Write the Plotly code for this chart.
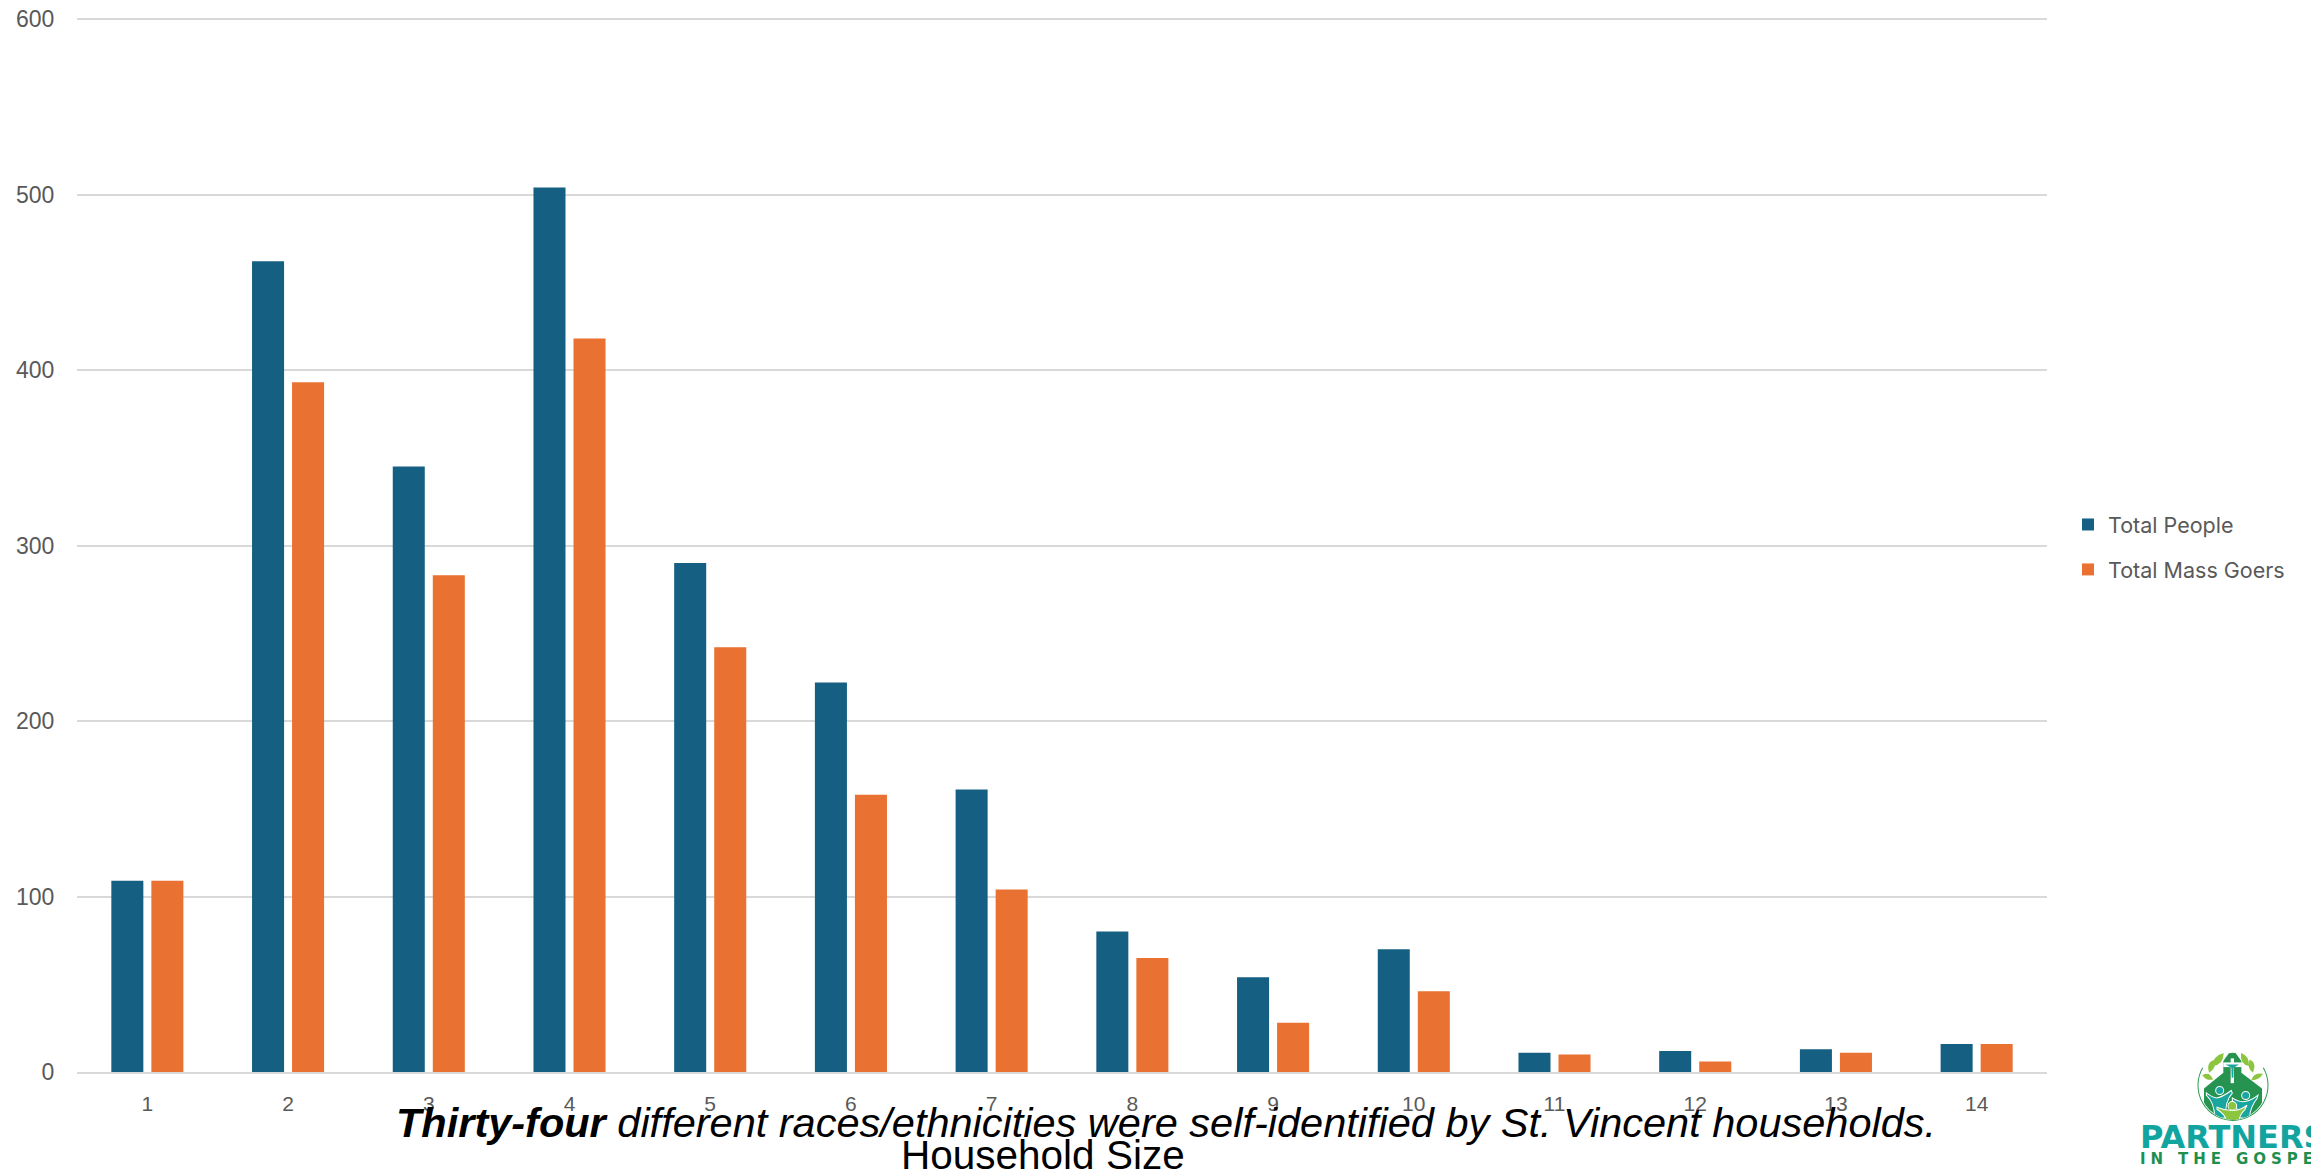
import base64
import plotly.graph_objects as go

household_size = ["1", "2", "3", "4", "5", "6", "7", "8", "9", "10", "11", "12", "13", "14"]
total_people = [109, 462, 345, 504, 290, 222, 161, 80, 54, 70, 11, 12, 13, 16]
total_mass_goers = [109, 393, 283, 418, 242, 158, 104, 65, 28, 46, 10, 6, 11, 16]
y_ticks = [0, 100, 200, 300, 400, 500, 600]

W, H = 2311, 1175
L, R, T, B = 77, 2047, 18, 1072


def px(x):
    return (x - L) / (R - L)


def py(y):
    return (B - y) / (B - T)


logo_svg = """<svg xmlns="http://www.w3.org/2000/svg" viewBox="430 85 240 230" width="240" height="230">
<defs><clipPath id="c"><circle cx="550" cy="205" r="100"/></clipPath></defs>
<path d="M459 150 A105 105 0 1 0 641 150" fill="none" stroke="#2a9a50" stroke-width="3"/>
<g clip-path="url(#c)">
<path d="M548 92 L575 130 L575 165 L637 212 L637 320 L463 320 L463 212 L521 165 L521 130 Z" fill="#279350"/>
<path d="M470 225 Q490 240 500 240 Q515 240 545 218 L548 226 Q525 250 528 300 L495 300 Q495 255 470 232 Z" fill="#19a5a0" stroke="#fff" stroke-width="3"/>
<circle cx="510" cy="218" r="12" fill="#19a5a0" stroke="#fff" stroke-width="3"/>
<path d="M548 240 Q570 255 590 250 Q605 248 625 232 L622 242 Q600 270 600 300 L565 300 Q565 265 548 248 Z" fill="#19a5a0" stroke="#fff" stroke-width="3"/>
<circle cx="588" cy="233" r="12" fill="#19a5a0" stroke="#fff" stroke-width="3"/>
<path d="M502 268 Q525 278 548 278 Q572 278 592 262 L585 276 Q570 290 568 310 L530 310 Q528 290 502 274 Z" fill="#8cc63f" stroke="#fff" stroke-width="3"/>
<circle cx="548" cy="264" r="13" fill="#8cc63f" stroke="#fff" stroke-width="3"/>
</g>
<rect x="543" y="122" width="10" height="74" fill="#fff"/>
<rect x="521" y="134" width="55" height="14" fill="#fff"/>
<path d="M528 140 L568 140 L552 150 L551 180 L546 180 L545 150 Z" fill="#19a5a0"/>
<g fill="#8cc63f">
<path d="M490 145 Q488 115 522 106 Q522 140 490 145 Z"/>
<path d="M478 165 Q468 135 495 125 Q502 150 478 165 Z"/>
<path d="M490 185 Q470 190 458 172 Q480 160 490 185 Z"/>
<path d="M598 145 Q600 115 574 106 Q570 140 598 145 Z"/>
<path d="M610 165 Q622 135 600 125 Q590 150 610 165 Z"/>
<path d="M605 187 Q628 188 640 168 Q612 162 605 187 Z"/>
</g>
</svg>"""
logo_uri = "data:image/svg+xml;base64," + base64.b64encode(logo_svg.encode()).decode()

fig = go.Figure()
fig.add_trace(go.Bar(name="Total People", x=household_size, y=total_people,
                     marker=dict(color="#156082", line=dict(width=0)), legendgroup="a"))
fig.add_trace(go.Bar(name="Total Mass Goers", x=household_size, y=total_mass_goers,
                     marker=dict(color="#E97132", line=dict(width=0)), legendgroup="b"))

annots = [
    dict(text="<b><i>Thirty-four</i></b><i> different races/ethnicities were self-identified by St. Vincent households.</i>",
         x=px(1166), y=py(1122), xref="paper", yref="paper", xanchor="center", yanchor="middle",
         showarrow=False, font=dict(family="Liberation Sans", size=41.5, color="#000000")),
    dict(text="Household Size", x=px(1043), y=py(1155), xref="paper", yref="paper",
         xanchor="center", yanchor="middle", showarrow=False,
         font=dict(family="Liberation Sans", size=40.5, color="#000000")),
    dict(text="PARTNERS", x=px(2138), y=py(1137), xref="paper", yref="paper", xanchor="left",
         yanchor="middle", showarrow=False,
         font=dict(family="DejaVu Sans", size=32, color="#12A5A0", weight="bold")),
    dict(text="I\u2004N\u2003T\u2004H\u2004E\u2003G\u2004O\u2004S\u2004P\u2004E\u2004L", x=px(2138), y=py(1159),
         xref="paper", yref="paper", xanchor="left", yanchor="middle", showarrow=False,
         font=dict(family="DejaVu Sans", size=15, color="#1E8F4E", weight="bold")),
]

fig.update_layout(
    width=W, height=H, autosize=False,
    margin=dict(l=L, r=W - R, t=T, b=H - B, pad=0),
    paper_bgcolor="#ffffff", plot_bgcolor="#ffffff",
    barmode="group", bargap=0.431, bargroupgap=0.2,
    font=dict(family="Liberation Sans", color="#595959", size=19),
    xaxis=dict(type="category", showgrid=False, showline=True, linecolor="#D9D9D9", linewidth=2,
               ticks="outside", ticklen=12, tickcolor="rgba(0,0,0,0)", automargin=False,
               tickfont=dict(size=21, color="#595959"), zeroline=False),
    yaxis=dict(range=[0, 600.6], tickvals=y_ticks, showgrid=True, gridcolor="#D9D9D9", gridwidth=2,
               zeroline=False, ticks="outside", ticklen=17, tickcolor="rgba(0,0,0,0)", automargin=False,
               tickfont=dict(size=23, color="#595959"), showline=False),
    legend=dict(x=px(2068), y=py(504), xanchor="left", yanchor="top", tracegroupgap=14,
                orientation="v", traceorder="grouped", bgcolor="rgba(0,0,0,0)",
                font=dict(family="Inter", size=21.5, color="#595959")),
    annotations=annots,
    images=[dict(source=logo_uri, xref="paper", yref="paper", x=px(2193), y=py(1046),
                 sizex=80 / (R - L), sizey=77 / (B - T), xanchor="left", yanchor="top",
                 sizing="stretch", layer="above")],
)

fig.write_html("out.html", config=dict(displayModeBar=False),
               post_script="document.body.style.margin='0';document.body.style.overflow='hidden';")
